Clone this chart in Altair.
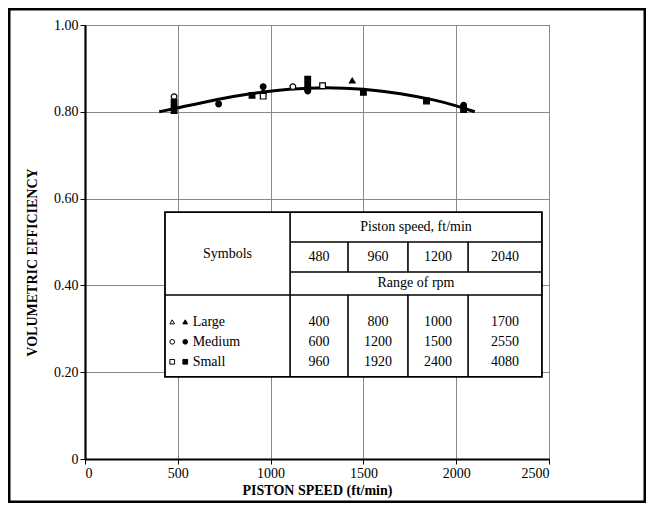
import altair as alt
import pandas as pd

# ---- data ----
pt_speed = [480, 480, 480, 480, 720, 900, 960, 960, 960, 1120, 1200, 1200, 1200, 1200, 1280, 1440, 1500, 1840, 2040, 2040]
pt_eff = [0.835, 0.822, 0.812, 0.803, 0.818, 0.838, 0.858, 0.848, 0.836, 0.858, 0.875, 0.865, 0.855, 0.848, 0.860, 0.872, 0.845, 0.825, 0.815, 0.805]
pt_size = ["Medium", "Small", "Medium", "Small", "Medium", "Small", "Medium", "Large", "Small", "Medium",
           "Small", "Medium", "Small", "Medium", "Small", "Large", "Small", "Small", "Medium", "Small"]
pt_fill = ["open", "filled", "filled", "filled", "filled", "filled", "filled", "filled", "open", "open",
           "filled", "filled", "filled", "filled", "open", "filled", "filled", "filled", "filled", "filled"]

curve_speed = [400, 500, 700, 900, 1100, 1300, 1500, 1700, 1900, 2000, 2100]
curve_eff = [0.800, 0.809, 0.828, 0.843, 0.853, 0.857, 0.853, 0.843, 0.826, 0.814, 0.800]

x_ticks = [0, 500, 1000, 1500, 2000, 2500]
y_ticks = [0, 0.2, 0.4, 0.6, 0.8, 1.0]

# table content
sizes = ["Large", "Medium", "Small"]
piston_speeds = ["480", "960", "1200", "2040"]
rpm_rows = [["400", "800", "1000", "1700"],
            ["600", "1200", "1500", "2550"],
            ["960", "1920", "2400", "4080"]]

# table geometry in data units (ft/min, efficiency)
tab_x = [431, 1105, 1417, 1740, 2064, 2462]   # left, symbol divider, column dividers, right
tab_y = [0.569, 0.500, 0.431, 0.378, 0.189]   # top, header, speeds, rpm header, bottom
row_y = [0.316, 0.270, 0.224]

FONT = "Liberation Serif"

xs = alt.Scale(domain=[0, 2500], nice=False)
ys = alt.Scale(domain=[0, 1.0], nice=False)

pts = pd.DataFrame({"speed": pt_speed, "eff": pt_eff, "size": pt_size, "fill": pt_fill})
curve = pd.DataFrame({"speed": curve_speed, "eff": curve_eff})

shape_scale = alt.Scale(domain=["Large", "Medium", "Small"], range=["triangle-up", "circle", "square"])
fill_scale = alt.Scale(domain=["open", "filled"], range=["white", "black"])

X = lambda f="speed": alt.X(f"{f}:Q", scale=xs)
Y = lambda f="eff": alt.Y(f"{f}:Q", scale=ys)

base_axes = alt.Chart(pd.DataFrame({"speed": [0], "eff": [0]})).mark_point(opacity=0).encode(
    x=alt.X("speed:Q", scale=xs, title="PISTON SPEED (ft/min)",
            axis=alt.Axis(values=x_ticks, format="d", grid=True, tickSize=5)),
    y=alt.Y("eff:Q", scale=ys, title="VOLUMETRIC EFFICIENCY",
            axis=alt.Axis(values=y_ticks, labelExpr="datum.value == 0 ? '0' : format(datum.value, '.2f')",
                          grid=True, tickSize=5, titleY=237)),
)

# outer frame around the whole figure
frame = alt.Chart(pd.DataFrame({"a": [0]})).mark_rect(fill=None, stroke="black", strokeWidth=3).encode(
    x=alt.value(-76), x2=alt.value(560), y=alt.value(-16), y2=alt.value(477)
)

# table background
tab_bg = alt.Chart(pd.DataFrame({"x": [tab_x[0]], "x2": [tab_x[-1]], "y": [tab_y[0]], "y2": [tab_y[-1]]})).mark_rect(
    fill="white", stroke="black", strokeWidth=1.8
).encode(x=alt.X("x:Q", scale=xs), x2="x2:Q", y=alt.Y("y:Q", scale=ys), y2="y2:Q")

# table lines
lines = []
lines.append((tab_x[1], tab_x[1], tab_y[0], tab_y[4]))
for cx in tab_x[2:5]:
    lines.append((cx, cx, tab_y[1], tab_y[2]))
    lines.append((cx, cx, tab_y[3], tab_y[4]))
lines.append((tab_x[1], tab_x[5], tab_y[1], tab_y[1]))
lines.append((tab_x[1], tab_x[5], tab_y[2], tab_y[2]))
lines.append((tab_x[0], tab_x[5], tab_y[3], tab_y[3]))
ldf = pd.DataFrame(lines, columns=["x", "x2", "y", "y2"])
tab_lines = alt.Chart(ldf).mark_rule(color="black", strokeWidth=1.6).encode(
    x=alt.X("x:Q", scale=xs), x2="x2:Q", y=alt.Y("y:Q", scale=ys), y2="y2:Q"
)

# table texts
col_cx = [(tab_x[i] + tab_x[i + 1]) / 2 for i in range(1, 5)]
head_cx = (tab_x[1] + tab_x[5]) / 2
texts = [
    ("Piston speed, ft/min", head_cx, (tab_y[0] + tab_y[1]) / 2, "center"),
    ("Symbols", (tab_x[0] + tab_x[1]) / 2, (tab_y[0] + tab_y[3]) / 2, "center"),
    ("Range of rpm", head_cx, (tab_y[2] + tab_y[3]) / 2, "center"),
]
for s, cx in zip(piston_speeds, col_cx):
    texts.append((s, cx, (tab_y[1] + tab_y[2]) / 2, "center"))
for r, yy in zip(rpm_rows, row_y):
    for s, cx in zip(r, col_cx):
        texts.append((s, cx, yy, "center"))
for s, yy in zip(sizes, row_y):
    texts.append((s, 580, yy, "left"))
tdf = pd.DataFrame(texts, columns=["t", "x", "y", "al"])

tab_text_c = alt.Chart(tdf[tdf.al == "center"]).mark_text(
    font=FONT, fontSize=14, align="center", baseline="middle", color="black"
).encode(x=alt.X("x:Q", scale=xs), y=alt.Y("y:Q", scale=ys), text="t:N")
tab_text_l = alt.Chart(tdf[tdf.al == "left"]).mark_text(
    font=FONT, fontSize=14, align="left", baseline="middle", color="black"
).encode(x=alt.X("x:Q", scale=xs), y=alt.Y("y:Q", scale=ys), text="t:N")

# legend symbols in table
sym = pd.DataFrame({
    "x": [470, 470, 470, 540, 540, 540],
    "y": row_y + row_y,
    "size": sizes + sizes,
    "fill": ["open"] * 3 + ["filled"] * 3,
})
sym_pts = alt.Chart(sym).mark_point(filled=True, stroke="black", strokeWidth=1, size=22, opacity=1).encode(
    x=alt.X("x:Q", scale=xs), y=alt.Y("y:Q", scale=ys),
    shape=alt.Shape("size:N", scale=shape_scale, legend=None),
    fill=alt.Fill("fill:N", scale=fill_scale, legend=None),
)

line = alt.Chart(curve).mark_line(color="black", strokeWidth=3, interpolate="basis").encode(
    x=X(), y=Y()
)

points = alt.Chart(pts).mark_point(filled=True, stroke="black", strokeWidth=1.2, size=32, opacity=1).encode(
    x=X(), y=Y(),
    shape=alt.Shape("size:N", scale=shape_scale, legend=None),
    fill=alt.Fill("fill:N", scale=fill_scale, legend=None),
)

chart = alt.layer(base_axes, frame, tab_bg, tab_lines, tab_text_c, tab_text_l, sym_pts, line, points).properties(
    width=464, height=434,
    padding={"left": 77, "top": 17, "right": 97, "bottom": 44},
    autosize=alt.AutoSizeParams(type="none"),
    background="white",
).configure_view(
    stroke="black", strokeWidth=1
).configure_axis(
    labelFont=FONT, titleFont=FONT, labelFontSize=14, titleFontSize=14, labelColor="black", titleColor="black",
    labelFontWeight="normal",
    titleFontWeight="bold", domainColor="black", domainWidth=2.2, tickColor="black", tickWidth=1,
    gridColor="#8a8a8a", gridWidth=1, labelPadding=2,
).configure_axisX(titlePadding=3).configure_axisY(titlePadding=14)

chart.save("out.html", embed_options={"renderer": "svg", "actions": False})
